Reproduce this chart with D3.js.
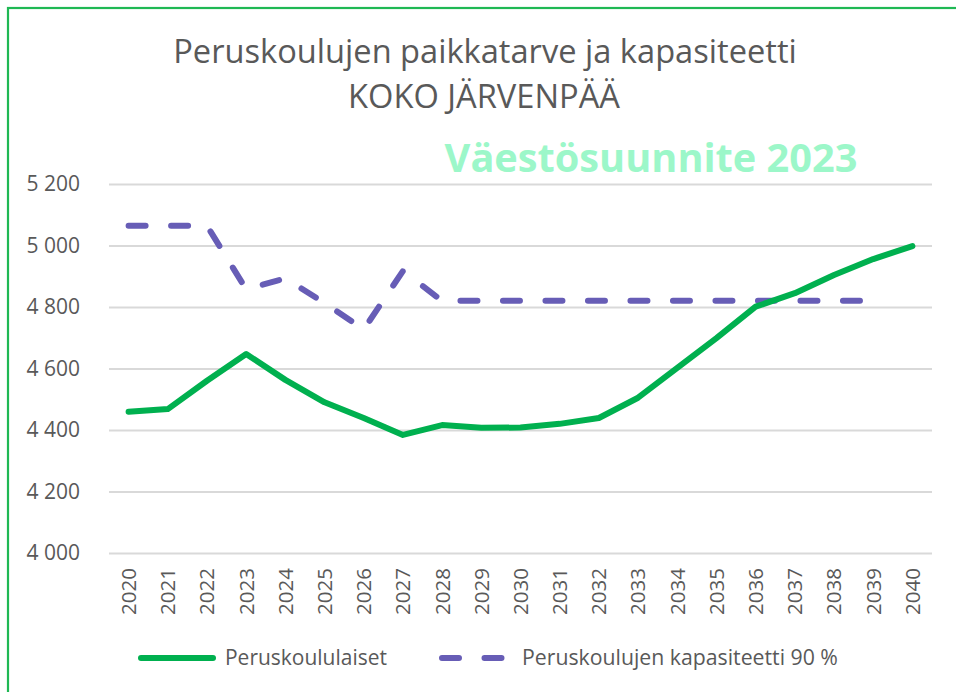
<!DOCTYPE html>
<html>
<head>
<meta charset="utf-8">
<script src="https://cdn.jsdelivr.net/npm/d3@7"></script>
<style>
  body { margin: 0; background: #fff; }
  svg { display: block; font-family: "Open Sans", sans-serif; }
</style>
</head>
<body>
<div id="root"></div>
<script>
const years = d3.range(2020, 2041).map(String);

// Peruskoululaiset
const pupils = [4459, 4468, 4560, 4647, 4563, 4490, 4439, 4384, 4416, 4407, 4408,
                4420, 4439, 4505, 4602, 4699, 4801, 4845, 4904, 4956, 4998];

// Peruskoulujen kapasiteetti 90 % (ei arvoa 2040)
const capacity = [5064, 5064, 5064, 4858, 4893, 4813, 4727, 4917, 4820, 4820, 4820,
                  4820, 4820, 4820, 4820, 4820, 4820, 4820, 4820, 4820, null];

const yTicks = [4000, 4200, 4400, 4600, 4800, 5000, 5200];

const seriesNames = ["Peruskoululaiset", "Peruskoulujen kapasiteetti 90 %"];

const width = 956;
const height = 692;
const textColor = "#595959";
const green = "#00b04f";
const purple = "#675db6";

const svg = d3.select("#root")
  .append("svg")
    .attr("width", width)
    .attr("height", height);

// chart border (open on the right and bottom, cropped like the original)
svg.append("rect")
    .attr("x", 8)
    .attr("y", 8)
    .attr("width", 1200)
    .attr("height", 1000)
    .attr("fill", "none")
    .attr("stroke", "#1fb854")
    .attr("stroke-width", 2.2);

// scale a text's font size so its width matches the target
function fit(sel, w) {
  const fs = parseFloat(sel.attr("font-size"));
  const len = sel.node().getComputedTextLength();
  sel.attr("font-size", fs * w / len);
  return sel;
}

fit(svg.append("text")
    .attr("x", 485).attr("y", 63)
    .attr("text-anchor", "middle")
    .attr("font-size", 28)
    .attr("fill", textColor)
    .text("Peruskoulujen paikkatarve ja kapasiteetti"), 624);

fit(svg.append("text")
    .attr("x", 484).attr("y", 108)
    .attr("text-anchor", "middle")
    .attr("font-size", 28)
    .attr("fill", textColor)
    .text("KOKO JÄRVENPÄÄ"), 272);

fit(svg.append("text")
    .attr("x", 651).attr("y", 172)
    .attr("text-anchor", "middle")
    .attr("font-size", 38)
    .attr("font-weight", 700)
    .attr("fill", "#9cf7c9")
    .text("Väestösuunnite 2023"), 413);

const margin = {left: 109, right: 932, top: 184, bottom: 553};

const x = d3.scaleBand()
  .domain(years)
  .range([margin.left, margin.right])
  .padding(0);

const y = d3.scaleLinear()
  .domain([4000, 5200])
  .range([margin.bottom, margin.top]);

const fmt = d3.formatLocale({decimal: ",", thousands: "\u00a0", grouping: [3], currency: ["", "€"]}).format(",");

// grid + y labels
const yAxis = svg.append("g")
    .attr("transform", `translate(${margin.left},0)`)
    .call(d3.axisLeft(y)
      .tickValues(yTicks)
      .tickSize(-(margin.right - margin.left))
      .tickPadding(29)
      .tickFormat(fmt));

yAxis.select(".domain").remove();
yAxis.selectAll(".tick line")
    .attr("stroke", "#d9d9d9")
    .attr("stroke-width", 2);
yAxis.selectAll(".tick text")
    .attr("fill", textColor)
    .attr("font-size", 21)
    .attr("font-family", "Open Sans, sans-serif");

// x labels, rotated
const xAxis = svg.append("g")
    .attr("transform", `translate(0,${margin.bottom})`)
    .call(d3.axisBottom(x).tickSize(0));

xAxis.select(".domain").remove();
xAxis.selectAll(".tick text")
    .attr("fill", textColor)
    .attr("font-size", 20.5)
    .attr("font-family", "Open Sans, sans-serif")
    .attr("text-anchor", "end")
    .attr("transform", "rotate(-90)")
    .attr("x", -15)
    .attr("y", 0)
    .attr("dy", "0.36em");

const cx = d => x(d) + x.bandwidth() / 2;

const line = d3.line()
  .defined(d => d.v != null)
  .x(d => cx(d.year))
  .y(d => y(d.v));

svg.append("path")
    .datum(years.map((year, i) => ({year, v: capacity[i]})))
    .attr("d", line)
    .attr("fill", "none")
    .attr("stroke", purple)
    .attr("stroke-width", 6)
    .attr("stroke-linecap", "round")
    .attr("stroke-linejoin", "round")
    .attr("stroke-dasharray", "17,25.5");

svg.append("path")
    .datum(years.map((year, i) => ({year, v: pupils[i]})))
    .attr("d", line)
    .attr("fill", "none")
    .attr("stroke", green)
    .attr("stroke-width", 6)
    .attr("stroke-linecap", "round")
    .attr("stroke-linejoin", "round");

// legend
const legend = svg.append("g");
const legendItems = [
  {name: seriesNames[0], x0: 141, color: green, dash: null, tx: 225, tw: 162},
  {name: seriesNames[1], x0: 442, color: purple, dash: "17,25.5", tx: 522, tw: 316}
];

legendItems.forEach(item => {
  legend.append("line")
      .attr("x1", item.x0).attr("x2", item.x0 + 72)
      .attr("y1", 658).attr("y2", 658)
      .attr("stroke", item.color)
      .attr("stroke-width", 6)
      .attr("stroke-linecap", "round")
      .attr("stroke-dasharray", item.dash);
  fit(legend.append("text")
      .attr("x", item.tx).attr("y", 665)
      .attr("font-size", 20)
      .attr("fill", textColor)
      .text(item.name), item.tw);
});
</script>
</body>
</html>
